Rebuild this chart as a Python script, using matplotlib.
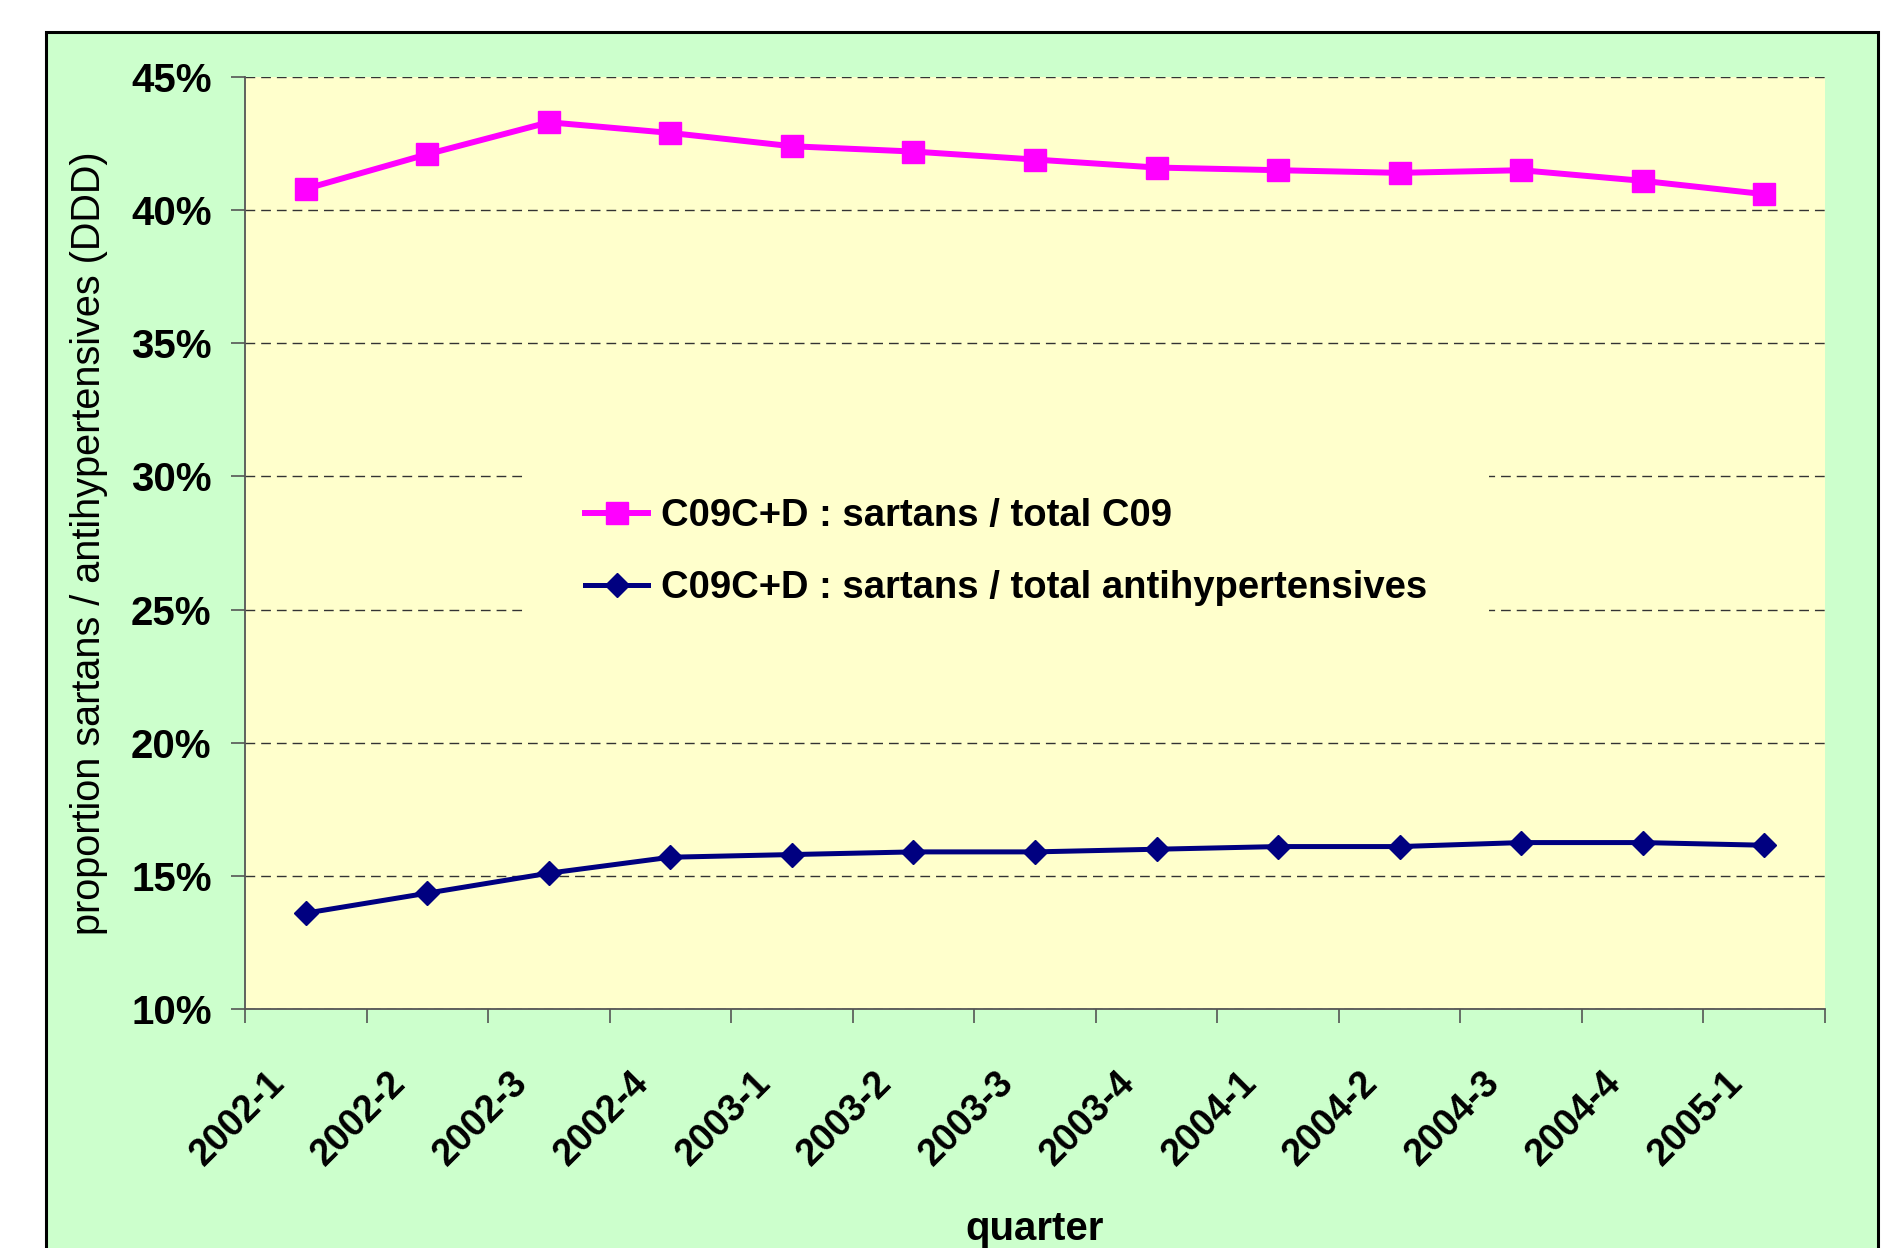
import numpy as np
import matplotlib.pyplot as plt
import matplotlib.transforms as mtransforms
from matplotlib.patches import Rectangle
from matplotlib.ticker import PercentFormatter, FixedLocator

plt.rcParams['font.family'] = ['Liberation Sans', 'DejaVu Sans']

# data (fractions)
quarters = ['2002-1', '2002-2', '2002-3', '2002-4', '2003-1', '2003-2', '2003-3',
            '2003-4', '2004-1', '2004-2', '2004-3', '2004-4', '2005-1']
sartans_c09 = [0.408, 0.421, 0.433, 0.429, 0.424, 0.422, 0.419,
               0.416, 0.415, 0.414, 0.415, 0.411, 0.406]
sartans_antihyp = [0.136, 0.1435, 0.151, 0.157, 0.158, 0.159, 0.159,
                   0.160, 0.161, 0.161, 0.1625, 0.1625, 0.1615]
label_c09 = 'C09C+D : sartans / total C09'
label_antihyp = 'C09C+D : sartans / total antihypertensives'

fig = plt.figure(figsize=(18.88, 12.48), dpi=100)
fig.patch.set_facecolor('white')

# green chart-area frame
frame = Rectangle((46 / 1888, -0.05), (1878 - 46) / 1888, 1.05 - 32 / 1248,
                  transform=fig.transFigure, facecolor='#CCFFCC',
                  edgecolor='black', linewidth=2.2, zorder=-10)
fig.patches.append(frame)

ax = fig.add_axes([245 / 1888, 1 - 1009 / 1248, 1580 / 1888, 932 / 1248])
ax.set_facecolor('#FFFFCC')

x = np.arange(len(quarters))
ax.plot(x, sartans_c09, color='#FF00FF', lw=4.3, marker='s', ms=16,
        mec='#FF00FF', label=label_c09, zorder=3)
ax.plot(x, sartans_antihyp, color='#000080', lw=3.6, marker='D', ms=12.5,
        mec='#000080', label=label_antihyp, zorder=3)

ax.set_xlim(-0.5, len(quarters) - 0.5)
ax.set_ylim(0.10, 0.45)
ax.set_yticks(np.arange(0.10, 0.451, 0.05))
ax.yaxis.set_major_formatter(PercentFormatter(1.0, decimals=0))
ax.yaxis.grid(True, color='#333333', lw=1.0, linestyle=(0, (7, 4.3)), zorder=0.5)
ax.set_axisbelow(True)

for s in ['top', 'right']:
    ax.spines[s].set_visible(False)
for s in ['left', 'bottom']:
    ax.spines[s].set_color('#555555')
    ax.spines[s].set_linewidth(1.3)

ax.tick_params(axis='y', length=10, width=1.2, color='#555555', pad=14,
               labelsize=29)
for t in ax.get_yticklabels():
    t.set_fontweight('bold')

ax.set_xticks(x)
ax.set_xticklabels(quarters, rotation=45, ha='right', va='center',
                   rotation_mode='anchor', fontsize=27, fontweight='bold')
ax.xaxis.set_minor_locator(FixedLocator(np.arange(-0.5, len(quarters), 1.0)))
ax.tick_params(axis='x', which='major', length=0, pad=49)
ax.tick_params(axis='x', which='minor', length=10, width=1.2, color='#555555')
offset = mtransforms.ScaledTranslation(-27 / 100, 0, fig.dpi_scale_trans)
for t in ax.get_xticklabels():
    t.set_transform(t.get_transform() + offset)

ax.set_ylabel('proportion sartans / antihypertensives (DDD)', fontsize=28.5)
ax.yaxis.set_label_coords(-0.087, 0.5)
ax.set_xlabel('quarter', fontsize=29, fontweight='bold')
ax.xaxis.set_label_coords(0.5, -0.216)

leg = ax.legend(loc='center', bbox_to_anchor=(0.482, 0.49),
                prop={'weight': 'bold', 'size': 27.5},
                frameon=True, facecolor='#FFFFCC', edgecolor='none',
                framealpha=1, fancybox=False, handlelength=1.65,
                handletextpad=0.34, labelspacing=0.95, borderpad=1.6)
leg.get_frame().set_linewidth(0)

fig.savefig('out.png', dpi=100)
